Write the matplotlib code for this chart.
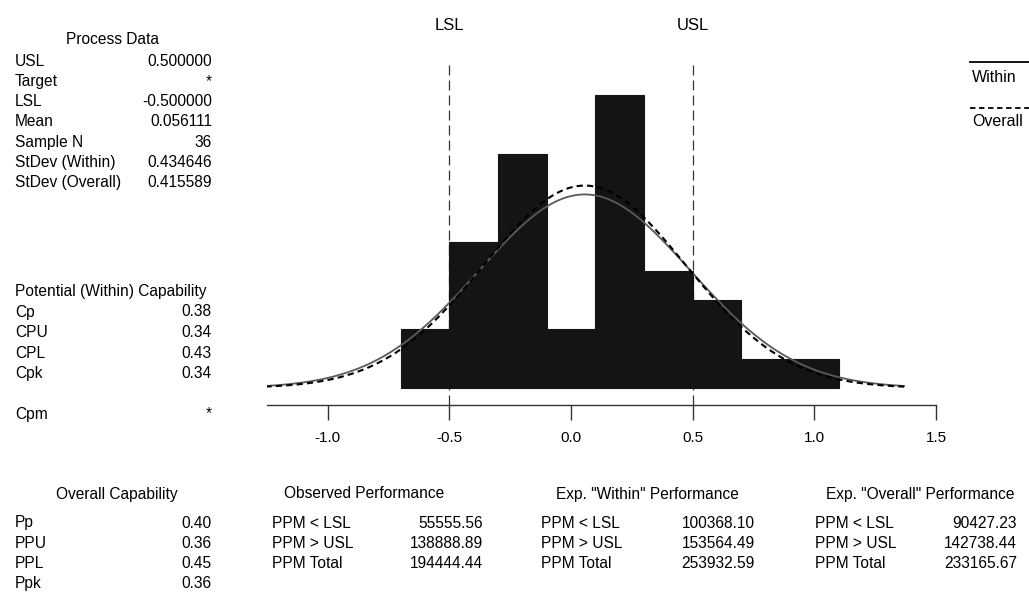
import numpy as np
import matplotlib
matplotlib.use("Agg")
import matplotlib.pyplot as plt

# ---- data ----
bin_edges = [-0.7, -0.5, -0.3, -0.1, 0.1, 0.3, 0.5, 0.7, 0.9, 1.1]
counts = [2, 5, 8, 2, 10, 4, 3, 1, 1]
lsl = -0.5
usl = 0.5
mean = 0.056111
sd_within = 0.434646
sd_overall = 0.415589
n_obs = 36
xticks = [-1.0, -0.5, 0.0, 0.5, 1.0, 1.5]

process_labels = ["USL", "Target", "LSL", "Mean", "Sample N", "StDev (Within)", "StDev (Overall)"]
process_values = ["0.500000", "*", "-0.500000", "0.056111", "36", "0.434646", "0.415589"]
potential_labels = ["Cp", "CPU", "CPL", "Cpk"]
potential_values = ["0.38", "0.34", "0.43", "0.34"]
overall_labels = ["Pp", "PPU", "PPL", "Ppk"]
overall_values = ["0.40", "0.36", "0.45", "0.36"]
perf_labels = ["PPM < LSL", "PPM > USL", "PPM Total"]
observed_values = ["55555.56", "138888.89", "194444.44"]
exp_within_values = ["100368.10", "153564.49", "253932.59"]
exp_overall_values = ["90427.23", "142738.44", "233165.67"]

plt.rcParams['font.family'] = ['Liberation Sans', 'DejaVu Sans']

W, H = 1029, 608
fig = plt.figure(figsize=(W / 100, H / 100), dpi=100)

def fx(px):
    return px / W

def fy(py):
    return 1 - py / H

# main axes: x from -1.25 (px 267) to 1.5 (px 936); axis line at py 405, top py 40
ax = fig.add_axes([fx(267), fy(405), fx(936) - fx(267), (405 - 40) / H])
ymin = -0.58
ymax = 11.88
ax.set_xlim(-1.25, 1.5)
ax.set_ylim(ymin, ymax)

lefts = bin_edges[:-1]
widths = np.diff(bin_edges)
ax.bar(lefts, counts, width=widths, align='edge', color='#141414', edgecolor='#141414', linewidth=0.8, zorder=2)

xs = np.linspace(mean - 3.02 * sd_within, mean + 3.02 * sd_within, 300)
bw = 0.2
def normal_curve(x, m, s):
    return n_obs * bw * np.exp(-0.5 * ((x - m) / s) ** 2) / (s * np.sqrt(2 * np.pi))

ax.plot(xs, normal_curve(xs, mean, sd_within), color='#5a5a5a', lw=1.3, zorder=3)
ax.plot(xs, normal_curve(xs, mean, sd_overall), color='black', lw=1.5, ls=(0, (3, 2)), zorder=3)

# spec limits
for v, lab in [(lsl, "LSL"), (usl, "USL")]:
    ax.plot([v, v], [ymin, 11.15], color='#333333', lw=0.9, ls=(0, (8, 4)), zorder=1, clip_on=False)
    fig.text(fx(267) + (v + 1.25) / 2.75 * (fx(936) - fx(267)), fy(25), lab,
             ha='center', va='center', fontsize=12)

for s in ['top', 'right', 'left']:
    ax.spines[s].set_visible(False)
ax.spines['bottom'].set_color('#333333')
ax.spines['bottom'].set_linewidth(1.0)
ax.set_yticks([])
ax.set_xticks(xticks)
ax.set_xticklabels([f"{t:.1f}" for t in xticks], fontsize=11)
ax.tick_params(axis='x', direction='out', length=11, width=1.0, pad=8, color='#333333')

# legend (cut at right edge)
fig.add_artist(plt.Line2D([fx(970), fx(1032)], [fy(62), fy(62)], color='black', lw=1.3))
fig.text(fx(972), fy(77), "Within", ha='left', va='center', fontsize=11.5)
fig.add_artist(plt.Line2D([fx(970), fx(1032)], [fy(108), fy(108)], color='black', lw=1.3, ls=(0, (3, 2))))
fig.text(fx(972), fy(122), "Overall", ha='left', va='center', fontsize=11.5)

fs = 11.2
def txt(x, y, s, ha='left'):
    fig.text(fx(x), fy(y), s, ha=ha, va='center', fontsize=fs)

# Process data
txt(113, 40, "Process Data", ha='center')
for i, (l, v) in enumerate(zip(process_labels, process_values)):
    y = 61 + i * 20.3
    txt(15, y, l)
    txt(212, y, v, ha='right')

# Potential capability
txt(15, 291, "Potential (Within) Capability")
for i, (l, v) in enumerate(zip(potential_labels, potential_values)):
    y = 312 + i * 20.6
    txt(15, y, l)
    txt(212, y, v, ha='right')
txt(15, 414, "Cpm")
txt(212, 414, "*", ha='right')

# Overall capability
txt(117, 494, "Overall Capability", ha='center')
for i, (l, v) in enumerate(zip(overall_labels, overall_values)):
    y = 523 + i * 20.3
    txt(15, y, l)
    txt(212, y, v, ha='right')

# Performance tables
tables = [
    (364, 272, 483, "Observed Performance", observed_values),
    (647, 541, 755, 'Exp. "Within" Performance', exp_within_values),
    (920, 815, 1017, 'Exp. "Overall" Performance', exp_overall_values),
]
for cx, lx, rx, title, vals in tables:
    txt(cx, 494, title, ha='center')
    for i, (l, v) in enumerate(zip(perf_labels, vals)):
        y = 523 + i * 20.3
        txt(lx, y, l)
        txt(rx, y, v, ha='right')

fig.savefig("out.png", dpi=100)
